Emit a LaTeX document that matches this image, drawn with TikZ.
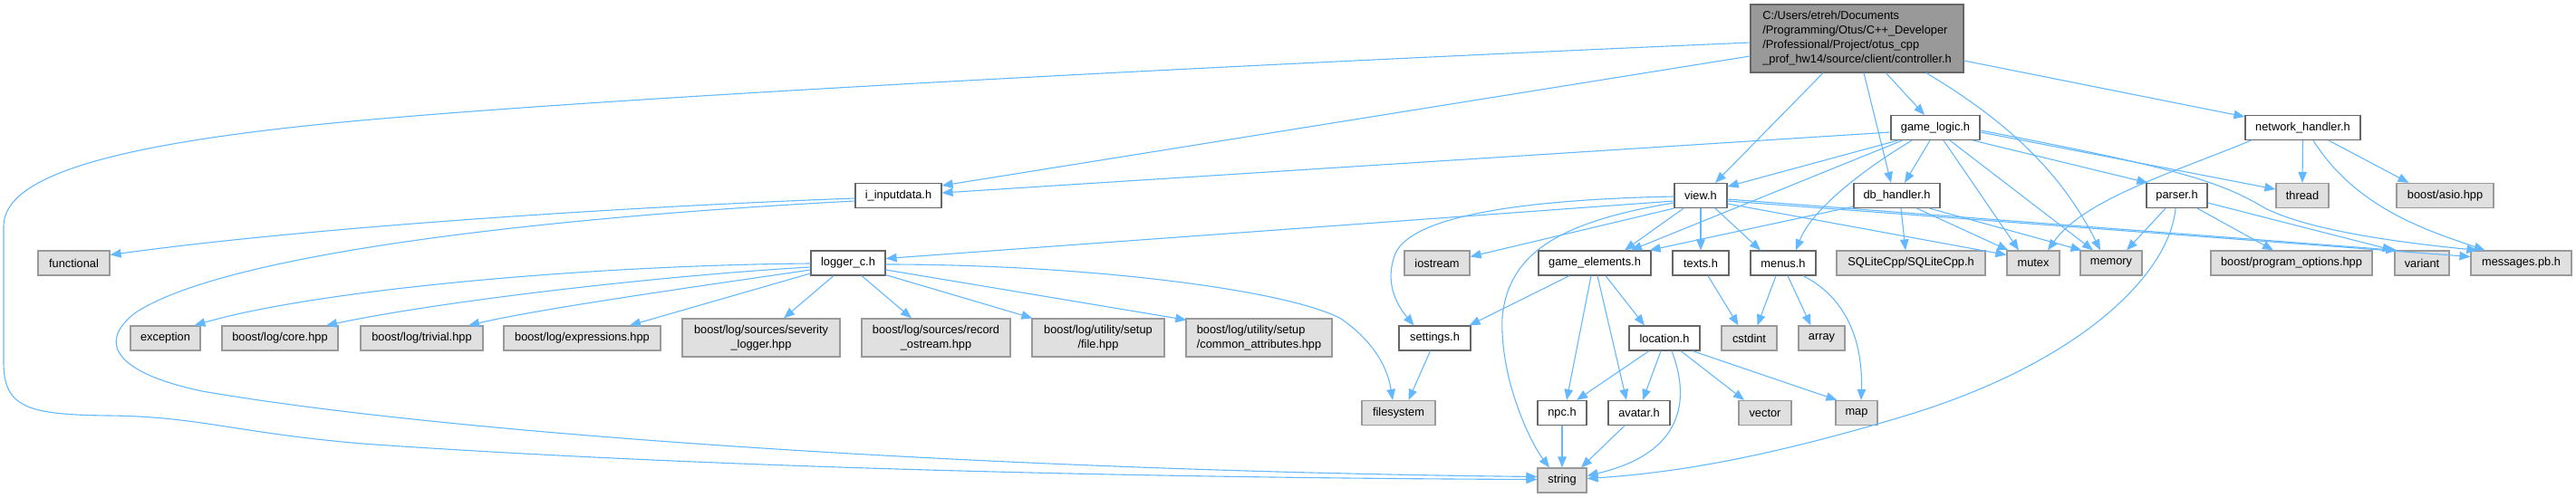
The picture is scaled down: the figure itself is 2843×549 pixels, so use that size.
\documentclass[tikz,border=0pt]{standalone}
\usepackage{fontspec}
\setmainfont{Liberation Sans}
\usetikzlibrary{arrows.meta,calc}
\definecolor{edgec}{HTML}{63B8FF}
\definecolor{extfill}{HTML}{E0E0E0}
\definecolor{extdraw}{HTML}{999999}
\definecolor{docdraw}{HTML}{666666}
\definecolor{curfill}{HTML}{999999}
\begin{document}
\begin{tikzpicture}[x=1pt,y=-1pt,
  base/.style={rectangle, inner sep=0pt, line width=1.2pt, font=\fontsize{12.8}{16}\selectfont, minimum height=27},
  doc/.style={base, draw=docdraw, fill=white},
  ext/.style={base, draw=extdraw, fill=extfill},
  cur/.style={base, draw=docdraw, fill=curfill},
  two/.style={minimum height=42, align=center},
  dep/.style={draw=edgec, line width=1.1pt, -{Triangle[length=12pt,width=9.5pt]}}]
\useasboundingbox (0,0) rectangle (2843,549);
% row 0
\node[cur, minimum width=235, minimum height=75, align=left] (ctrl) at (2049.5,42.5) {C:/Users/etreh/Documents\\/Programming/Otus/C++\_Developer\\/Professional/Project/otus\_cpp\\\_prof\_hw14/source/client/controller.h};
% row 1
\node[doc, minimum width=98] (gl) at (2136,141) {game\_logic.h};
\node[doc, minimum width=127] (nh) at (2541.5,141) {network\_handler.h};
% row 2
\node[doc, minimum width=95] (iin) at (991.5,216) {i\_inputdata.h};
\node[doc, minimum width=58] (view) at (1877,216) {view.h};
\node[doc, minimum width=95] (db) at (2093.5,216) {db\_handler.h};
\node[doc, minimum width=67] (parser) at (2402.5,216) {parser.h};
\node[ext, minimum width=58] (thread) at (2541,216) {thread};
\node[ext, minimum width=107] (asio) at (2698.5,216) {boost/asio.hpp};
% row 3
\node[ext, minimum width=79] (func) at (81.5,290.5) {functional};
\node[doc, minimum width=82] (logger) at (936,290.5) {logger\_c.h};
\node[ext, minimum width=72] (iostream) at (1586,290.5) {iostream};
\node[doc, minimum width=124] (ge) at (1760,290.5) {game\_elements.h};
\node[doc, minimum width=62] (texts) at (1877,290.5) {texts.h};
\node[doc, minimum width=72] (menus) at (1968,290.5) {menus.h};
\node[ext, minimum width=164] (sql) at (2109,290.5) {SQLiteCpp/SQLiteCpp.h};
\node[ext, minimum width=58] (mutex) at (2244,290.5) {mutex};
\node[ext, minimum width=68] (mem) at (2330,290.5) {memory};
\node[ext, minimum width=178] (po) at (2529,290.5) {boost/program\_options.hpp};
\node[ext, minimum width=60] (variant) at (2673,290.5) {variant};
\node[ext, minimum width=111] (msg) at (2782.5,290.5) {messages.pb.h};
% row 4
\node[ext, minimum width=77] (exc) at (182.5,373.5) {exception};
\node[ext, minimum width=128] (core) at (309,373.5) {boost/log/core.hpp};
\node[ext, minimum width=135] (triv) at (465.5,373.5) {boost/log/trivial.hpp};
\node[ext, minimum width=173] (expr) at (642.5,373.5) {boost/log/expressions.hpp};
\node[ext, two, minimum width=174] (sev) at (840,373) {boost/log/sources/severity\\\_logger.hpp};
\node[ext, two, minimum width=164] (rec) at (1033,373) {boost/log/sources/record\\\_ostream.hpp};
\node[ext, two, minimum width=146] (file) at (1212,373) {boost/log/utility/setup\\/file.hpp};
\node[ext, minimum height=42, align=left, minimum width=161] (comm) at (1389.5,373) {boost/log/utility/setup\\/common\_attributes.hpp};
\node[doc, minimum width=79] (settings) at (1583.5,373.5) {settings.h};
\node[doc, minimum width=78] (loc) at (1837,373.5) {location.h};
\node[ext, minimum width=61] (cstdint) at (1930.5,373.5) {cstdint};
\node[ext, minimum width=51] (array) at (2010.5,373.5) {array};
% row 5
\node[ext, minimum width=81] (fs) at (1543.5,456) {filesystem};
\node[doc, minimum width=54] (npc) at (1724,456) {npc.h};
\node[doc, minimum width=68] (avatar) at (1809,456) {avatar.h};
\node[ext, minimum width=58] (vector) at (1948,456) {vector};
\node[ext, minimum width=46] (map) at (2049,456) {map};
% row 6
\node[ext, minimum width=54] (str) at (1724,530.5) {string};

% ---- controller edges
\draw[dep] ($(ctrl.south)+(32,0)$) -- ($(gl.north)+(-12,0)$);
\draw[dep] ($(ctrl.south)+(-37.5,0)$) -- ($(view.north)+(16,0)$);
\draw[dep] ($(ctrl.south)+(7.5,0)$) -- ($(db.north)+(-6.5,0)$);
\draw[dep] ($(ctrl.south)+(76.5,0)$) .. controls (2200,125) and (2270,180) .. ($(mem.north)+(-12,0)$);
\draw[dep] ($(ctrl.east)+(0,24.5)$) -- ($(nh.north west)+(0,2)$);
\draw[dep] ($(ctrl.west)+(0,19.5)$) -- ($(iin.east)+(0,-11)$);
\draw[dep] ($(ctrl.west)+(0,4.5)$) .. controls (1400,70) and (600,110) .. (328,140)
   .. controls (100,165) and (4,200) .. (4,250) -- (4,400)
   .. controls (4,450) and (30,458) .. (120,459)
   .. controls (220,460) and (260,478) .. (400,490)
   .. controls (800,518) and (1300,528) .. ($(str.west)+(0,-1)$);
% ---- game_logic edges
\draw[dep] ($(gl.west)+(0,5)$) -- ($(iin.east)+(0,-3)$);
\draw[dep] ($(gl.south west)+(8,0)$) -- ($(view.east)+(0,-10)$);
\draw[dep] ($(gl.south west)+(13,0)$) -- ($(ge.north)+(40,0)$);
\draw[dep] ($(gl.south)+(-26,0)$) .. controls (2060,185) and (2000,230) .. ($(menus.north)+(14,0)$);
\draw[dep] ($(gl.south)+(-6,0)$) -- ($(db.north)+(8.5,0)$);
\draw[dep] ($(gl.south)+(9,0)$) -- ($(mutex.north)+(-16,0)$);
\draw[dep] ($(gl.south)+(16,0)$) -- ($(mem.north)+(-20,0)$);
\draw[dep] ($(gl.south east)+(-8,0)$) -- ($(parser.north west)+(2,0)$);
\draw[dep] ($(gl.east)+(0,5)$) -- ($(thread.west)+(0,-7)$);
\draw[dep] ($(gl.east)+(0,3)$) .. controls (2400,185) and (2450,200) .. (2500,230)
   .. controls (2550,255) and (2650,268) .. ($(msg.north west)+(8,0)$);
% ---- network_handler edges
\draw[dep] ($(nh.south west)+(7,0)$) .. controls (2400,190) and (2300,220) .. ($(mutex.north)+(16,0)$);
\draw[dep] (nh.south) -- (thread.north);
\draw[dep] ($(nh.south)+(11.5,0)$) .. controls (2600,230) and (2680,255) .. ($(msg.north)+(-40,0)$);
\draw[dep] ($(nh.south)+(28.5,0)$) -- ($(asio.north)+(-40,0)$);
% ---- view edges
\draw[dep] ($(view.west)+(0,6)$) -- ($(logger.east)+(0,-5)$);
\draw[dep] ($(view.west)+(0,1)$) .. controls (1700,220) and (1560,235) .. (1540,280)
   .. controls (1528,310) and (1540,335) .. ($(settings.north)+(-23,0)$);
\draw[dep] ($(view.west)+(0,8)$) .. controls (1720,245) and (1665,280) .. (1658,350)
   .. controls (1655,420) and (1690,490) .. ($(str.north)+(-14,0)$);
\draw[dep] (view.south west) -- ($(iostream.east)+(0,-7)$);
\draw[dep] ($(view.south)+(-19,0)$) -- ($(ge.north)+(33,0)$);
\draw[dep] (view.south) -- (texts.north);
\draw[dep] ($(view.south)+(16,0)$) -- ($(menus.north)+(-25,0)$);
\draw[dep] ($(view.east)+(0,9)$) -- ($(mutex.west)+(0,-9)$);
\draw[dep] ($(view.east)+(0,4)$) -- ($(variant.north west)+(3,0)$);
\draw[dep] ($(view.east)+(0,6)$) -- ($(msg.west)+(0,-7)$);
% ---- db_handler edges
\draw[dep] ($(db.south west)+(0,-2)$) -- ($(ge.north east)+(-2,0)$);
\draw[dep] ($(db.south)+(4.5,0)$) -- ($(sql.north)+(-6,0)$);
\draw[dep] ($(db.south)+(22,0)$) -- ($(mutex.north west)+(2,0)$);
\draw[dep] ($(db.south)+(36,0)$) -- ($(mem.north west)+(2,0)$);
% ---- parser edges
\draw[dep] ($(parser.south)+(-12.5,0)$) -- ($(mem.north)+(17,0)$);
\draw[dep] ($(parser.south)+(-1.5,0)$) .. controls (2395,300) and (2300,400) .. (2100,460)
   .. controls (1950,505) and (1850,522) .. ($(str.east)+(0,-2)$);
\draw[dep] ($(parser.south)+(22.5,0)$) -- ($(po.north)+(-20,0)$);
\draw[dep] ($(parser.east)+(0,8)$) -- ($(variant.north west)+(-1,0)$);
% ---- i_inputdata edges
\draw[dep] ($(iin.west)+(0,3)$) .. controls (700,228) and (350,250) .. ($(func.east)+(0,-9)$);
\draw[dep] ($(iin.west)+(0,6)$) .. controls (600,240) and (250,280) .. (150,345)
   .. controls (110,375) and (120,410) .. (223,432)
   .. controls (500,480) and (1100,520) .. ($(str.west)+(0,-4)$);
% ---- logger edges
\draw[dep] ($(logger.west)+(0,0.5)$) .. controls (650,293) and (350,320) .. ($(exc.north)+(32,0)$);
\draw[dep] ($(logger.west)+(0,4.5)$) .. controls (750,303) and (500,330) .. ($(core.north)+(51,0)$);
\draw[dep] ($(logger.west)+(0,7.5)$) .. controls (780,315) and (600,340) .. ($(triv.north)+(51.5,0)$);
\draw[dep] ($(logger.west)+(0,11.5)$) -- ($(expr.north)+(52.5,0)$);
\draw[dep] ($(logger.south)+(-16,0)$) -- ($(sev.north)+(25,0)$);
\draw[dep] ($(logger.south)+(15,0)$) -- ($(rec.north)+(-27,0)$);
\draw[dep] ($(logger.south east)+(0,-1)$) -- ($(file.north west)+(1,0)$);
\draw[dep] ($(logger.east)+(0,7.5)$) -- ($(comm.north west)+(1,2)$);
\draw[dep] ($(logger.east)+(0,1.5)$) .. controls (1200,292) and (1420,320) .. (1480,352)
   .. controls (1520,380) and (1532,410) .. ($(fs.north)+(-6.5,0)$);
% ---- game_elements edges
\draw[dep] ($(ge.south)+(-28,0)$) -- ($(settings.north east)+(-2,0)$);
\draw[dep] ($(ge.south)+(-4,0)$) -- ($(npc.north)+(5,0)$);
\draw[dep] ($(ge.south)+(3,0)$) -- ($(avatar.north)+(-14,0)$);
\draw[dep] ($(ge.south)+(12,0)$) -- ($(loc.north)+(-22,0)$);
% ---- location edges
\draw[dep] ($(loc.south)+(-17,0)$) -- ($(npc.north)+(16,0)$);
\draw[dep] ($(loc.south)+(-4,0)$) -- ($(avatar.north)+(4,0)$);
\draw[dep] ($(loc.south)+(8,0)$) .. controls (1865,440) and (1860,500) .. ($(str.east)+(0,-5)$);
\draw[dep] ($(loc.south)+(18,0)$) -- ($(vector.north)+(-23,0)$);
\draw[dep] ($(loc.south)+(31,0)$) -- ($(map.north west)+(2,0)$);
% ---- menus, texts, settings, npc, avatar
\draw[dep] ($(menus.south)+(-8,0)$) -- ($(cstdint.north)+(9,0)$);
\draw[dep] ($(menus.south)+(5,0)$) -- ($(array.north)+(-12,0)$);
\draw[dep] ($(menus.south)+(22,0)$) .. controls (2040,330) and (2056,380) .. ($(map.north)+(5,0)$);
\draw[dep] ($(texts.south)+(8,0)$) -- ($(cstdint.north)+(-12,0)$);
\draw[dep] ($(settings.south)+(-5,0)$) -- ($(fs.north)+(11,0)$);
\draw[dep] (npc.south) -- (str.north);
\draw[dep] ($(avatar.south)+(-16,0)$) -- ($(str.north)+(21,0)$);
\end{tikzpicture}
\end{document}
